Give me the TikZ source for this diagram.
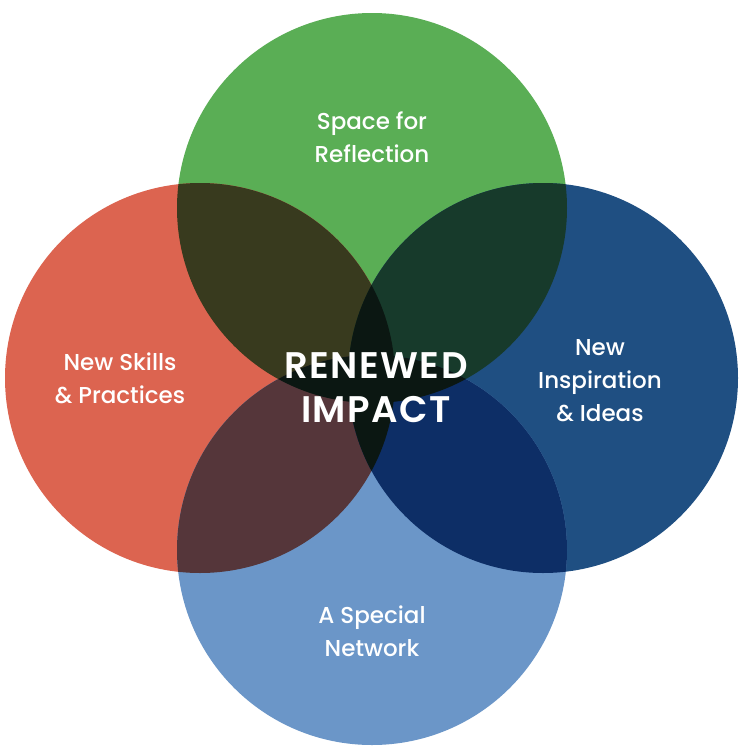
\documentclass[tikz,border=0pt]{standalone}
\usepackage{fontspec}
\setmainfont{Poppins}
\IfFontExistsTF{Poppins Medium}
  {\newfontfamily\lblfont{Poppins Medium}}
  {\newfontfamily\lblfont{Poppins}[FakeBold=0.3]}
\IfFontExistsTF{Poppins SemiBold}
  {\newfontfamily\titlefont{Poppins SemiBold}[LetterSpace=4]}
  {\newfontfamily\titlefont{Poppins}[BoldFont=*,LetterSpace=4]}
\definecolor{cgreen}{HTML}{5AAE55}
\definecolor{cred}{HTML}{DC6450}
\definecolor{cblue}{HTML}{1F4F82}
\definecolor{clight}{HTML}{6B96C8}
\definecolor{cgr}{HTML}{383A1E}
\definecolor{cgb}{HTML}{173A2B}
\definecolor{crl}{HTML}{55363A}
\definecolor{cbl}{HTML}{0D2E66}
\definecolor{ccenter}{HTML}{0B1712}
\tikzset{
  lbl/.style={text=white, align=center, font=\lblfont\fontsize{23}{33}\selectfont},
  title/.style={text=white, align=center, font=\titlefont\fontsize{37}{44}\selectfont},
}
\newcommand{\rad}{195pt}
\begin{document}
\begin{tikzpicture}[x=1pt,y=-1pt]
\useasboundingbox (0,0) rectangle (746,750);
\fill[white] (0,0) rectangle (746,750);
\coordinate (cg) at (372,208);
\coordinate (cr) at (200,378);
\coordinate (cb) at (543,378);
\coordinate (cl) at (372,550);
% base circles
\fill[cgreen] (cg) circle[radius=\rad];
\fill[cred] (cr) circle[radius=\rad];
\fill[cblue] (cb) circle[radius=\rad];
\fill[clight] (cl) circle[radius=\rad];
% pairwise overlaps
\begin{scope}\clip (cg) circle[radius=\rad]; \fill[cgr] (cr) circle[radius=\rad];\end{scope}
\begin{scope}\clip (cg) circle[radius=\rad]; \fill[cgb] (cb) circle[radius=\rad];\end{scope}
\begin{scope}\clip (cl) circle[radius=\rad]; \fill[crl] (cr) circle[radius=\rad];\end{scope}
\begin{scope}\clip (cl) circle[radius=\rad]; \fill[cbl] (cb) circle[radius=\rad];\end{scope}
% centre
\begin{scope}\clip (cg) circle[radius=\rad]; \fill[ccenter] (cl) circle[radius=\rad];\end{scope}
\begin{scope}\clip (cr) circle[radius=\rad]; \fill[ccenter] (cb) circle[radius=\rad];\end{scope}
% labels
\node[lbl] (tg) at (372,137) {Space for\\Reflection};
\node[lbl] (tr) at (120,378) {New Skills\\\& Practices};
\node[lbl] (tb) at (600,381) {New\\Inspiration\\\& Ideas};
\node[lbl] (tl) at (372,631) {A Special\\Network};
\node[title] (tc) at (376,388) {RENEWED\\IMPACT};
\end{tikzpicture}
\end{document}
